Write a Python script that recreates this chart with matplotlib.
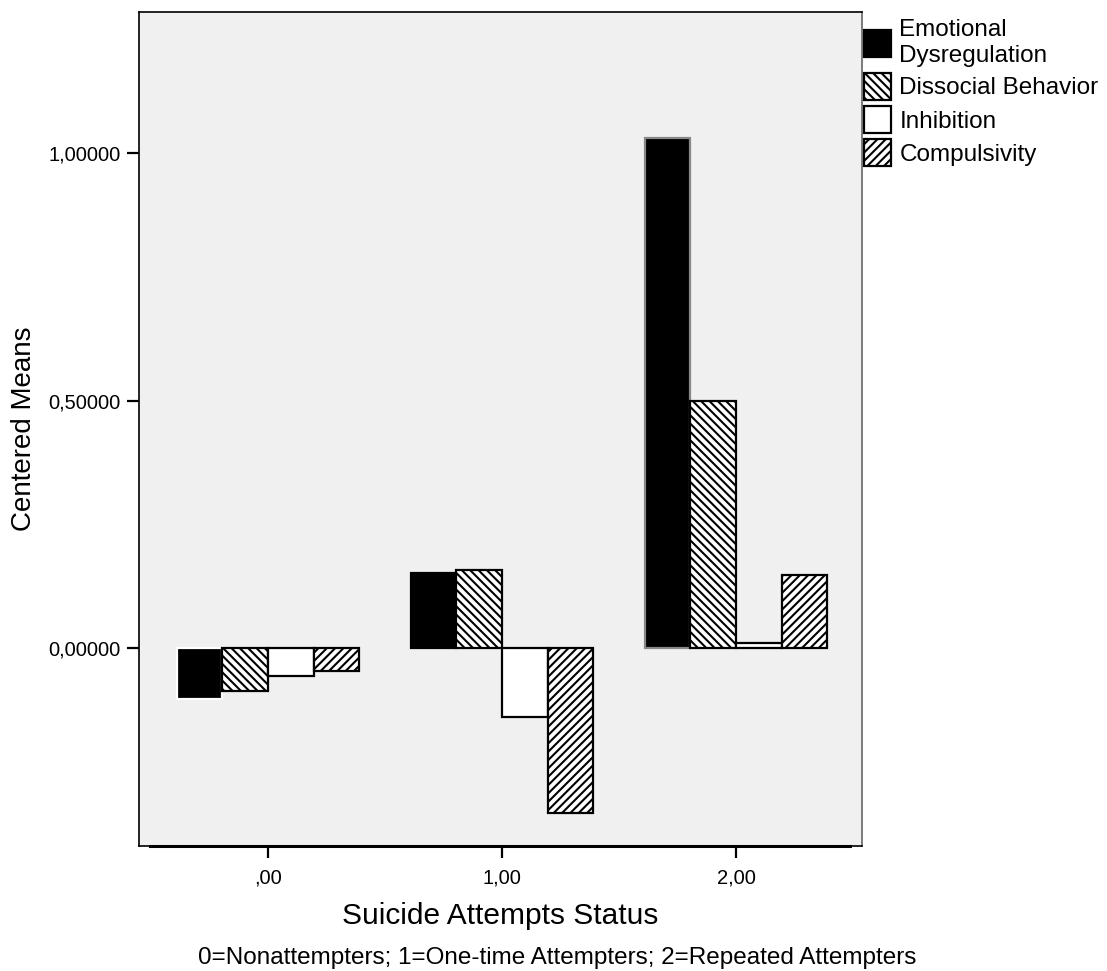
import matplotlib
matplotlib.use("Agg")
import matplotlib.pyplot as plt
from matplotlib.patches import Patch
import numpy as np

plt.rcParams['font.family'] = ['Liberation Sans', 'DejaVu Sans']
plt.rcParams['hatch.linewidth'] = 1.5

# data
groups = [",00", "1,00", "2,00"]
series = ["Emotional\nDysregulation", "Dissocial Behavior", "Inhibition", "Compulsivity"]
emotional = [-0.103, 0.152, 1.030]
dissocial = [-0.087, 0.158, 0.500]
inhibition = [-0.057, -0.139, 0.010]
compulsivity = [-0.046, -0.333, 0.148]
yticks = [0.0, 0.5, 1.0]

values = [emotional, dissocial, inhibition, compulsivity]
faces = ["black", "white", "white", "white"]
hatches = [None, "\\\\\\\\", None, "////"]

fig = plt.figure(figsize=(11.07, 9.71), dpi=100)
ax = fig.add_axes([0.1256, 0.1287, 0.6531, 0.8589])
ax.set_facecolor("#f0f0f0")

x = np.arange(len(groups))
w = 0.195
for i, vals in enumerate(values):
    offs = (i - 1.5) * w
    edges = ["black"] * len(vals)
    if i == 0:
        edges = ["white", "black", "#888888"]
    ax.bar(x + offs, vals, w, color=faces[i], edgecolor=edges, hatch=hatches[i],
           linewidth=1.6)

ax.set_xlim(-0.551, 2.538)
ax.set_ylim(-0.40, 1.285)
ax.set_xticks(x)
ax.set_xticklabels(groups, fontsize=14.5)
ax.set_yticks(yticks)
ax.set_yticklabels(["{:.5f}".format(v).replace(".", ",") for v in yticks], fontsize=14.5)
ax.tick_params(axis="y", length=8.5, width=1.6, pad=5)
ax.tick_params(axis="x", length=8.5, width=1.6, pad=8)

for s in ["left", "top", "right", "bottom"]:
    ax.spines[s].set_linewidth(1.2)
ax.spines["right"].set_color("#666666")
ax.axhline(-0.40, xmin=0.015, xmax=0.983, color="black", linewidth=2.2, clip_on=False)

ax.set_ylabel("Centered Means", fontsize=20, labelpad=8)
ax.set_xlabel("Suicide Attempts Status", fontsize=21.5, labelpad=10)
fig.text(0.179, 0.0075, "0=Nonattempters; 1=One-time Attempters; 2=Repeated Attempters",
         ha="left", va="baseline", fontsize=17.5)

handles = [Patch(facecolor=faces[i], edgecolor="black", hatch=hatches[i], linewidth=1.6)
           for i in range(len(series))]
fig.legend(handles, series, loc="upper left", bbox_to_anchor=(0.7805, 0.980),
           frameon=False, fontsize=17.5, handlelength=1.12, handleheight=1.35,
           handletextpad=0.34, labelspacing=0.24, borderpad=0, borderaxespad=0)

fig.savefig("out.png", dpi=100)
